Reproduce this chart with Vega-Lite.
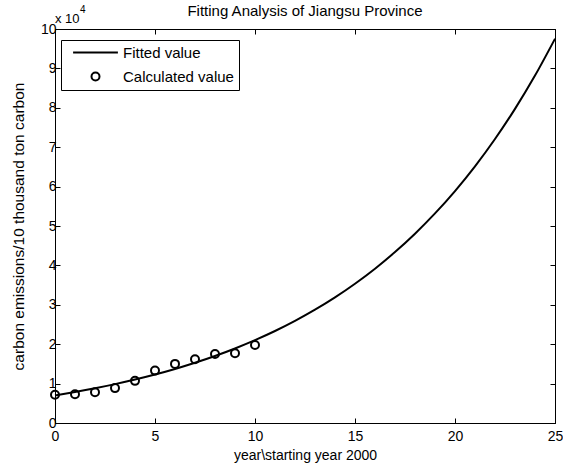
{
  "$schema": "https://vega.github.io/schema/vega-lite/v6.json",
  "width": 500,
  "height": 394,
  "autosize": {"type": "none"},
  "padding": {"left": 55, "top": 29, "right": 8, "bottom": 49},
  "background": "white",
  "title": {"text": "Fitting Analysis of Jiangsu Province", "fontSize": 15, "font": "Liberation Sans", "fontWeight": "normal", "color": "black", "offset": -14, "anchor": "middle"},
  "config": {
    "view": {"stroke": "black", "strokeWidth": 1},
    "font": "Liberation Sans",
    "axis": {
      "domainColor": "black", "tickColor": "black", "labelColor": "black", "titleColor": "black",
      "labelFont": "Liberation Sans", "titleFont": "Liberation Sans", "labelFontSize": 14, "titleFontSize": 14,
      "titleFontWeight": "normal", "grid": false, "tickSize": -5, "tickWidth": 1, "labelFlush": false, "labelOverlap": false
    }
  },
  "datasets": {
    "fitted": [
      {"t": 0, "v": 7000}, {"t": 1, "v": 7860}, {"t": 2, "v": 8810}, {"t": 3, "v": 9870}, {"t": 4, "v": 11030},
      {"t": 5, "v": 12310}, {"t": 6, "v": 13720}, {"t": 7, "v": 15290}, {"t": 8, "v": 17010}, {"t": 9, "v": 18920},
      {"t": 10, "v": 21030}, {"t": 11, "v": 23350}, {"t": 12, "v": 25920}, {"t": 13, "v": 28760}, {"t": 14, "v": 31890},
      {"t": 15, "v": 35350}, {"t": 16, "v": 39170}, {"t": 17, "v": 43390}, {"t": 18, "v": 48050}, {"t": 19, "v": 53190},
      {"t": 20, "v": 58870}, {"t": 21, "v": 65150}, {"t": 22, "v": 72080}, {"t": 23, "v": 79730}, {"t": 24, "v": 88180},
      {"t": 25, "v": 97520}
    ],
    "calc": [
      {"t": 0, "v": 7160, "series": "Calculated value"}, {"t": 1, "v": 7300, "series": "Calculated value"},
      {"t": 2, "v": 7800, "series": "Calculated value"}, {"t": 3, "v": 8860, "series": "Calculated value"},
      {"t": 4, "v": 10700, "series": "Calculated value"}, {"t": 5, "v": 13300, "series": "Calculated value"},
      {"t": 6, "v": 15000, "series": "Calculated value"}, {"t": 7, "v": 16200, "series": "Calculated value"},
      {"t": 8, "v": 17500, "series": "Calculated value"}, {"t": 9, "v": 17700, "series": "Calculated value"},
      {"t": 10, "v": 19800, "series": "Calculated value"}
    ],
    "note": [{"a": "x 10", "b": "4"}]
  },
  "layer": [
    {
      "data": {"name": "fitted"},
      "mark": {"type": "line", "color": "black", "strokeWidth": 2, "interpolate": "monotone"},
      "encoding": {
        "x": {"field": "t", "type": "quantitative", "scale": {"domain": [0, 25], "nice": false},
          "axis": {"orient": "bottom", "values": [0, 5, 10, 15, 20, 25], "title": "year\\starting year 2000", "labelPadding": 11, "titlePadding": 5}},
        "y": {"field": "v", "type": "quantitative", "scale": {"domain": [0, 100000], "nice": false},
          "axis": {"orient": "left", "values": [0, 10000, 20000, 30000, 40000, 50000, 60000, 70000, 80000, 90000, 100000],
            "labelExpr": "format(datum.value / 10000, 'd')", "title": "carbon emissions/10 thousand ton carbon", "titleFontSize": 15.5, "labelPadding": 4, "titlePadding": 14}}
      }
    },
    {
      "data": {"name": "calc"},
      "mark": {"type": "point", "filled": false, "stroke": "black", "strokeWidth": 2, "size": 64, "opacity": 1},
      "encoding": {
        "x": {"field": "t", "type": "quantitative",
          "axis": {"orient": "top", "values": [0, 5, 10, 15, 20, 25], "labels": false, "title": null}},
        "y": {"field": "v", "type": "quantitative",
          "axis": {"orient": "right", "values": [0, 10000, 20000, 30000, 40000, 50000, 60000, 70000, 80000, 90000, 100000], "labels": false, "title": null}},
        "shape": {"field": "series", "type": "nominal",
          "scale": {"domain": ["Fitted value", "Calculated value"], "range": ["M-5.6,0H5.6", "circle"]},
          "legend": {"orient": "none", "legendX": 6, "legendY": 11, "title": null, "strokeColor": "black", "fillColor": "white",
            "padding": 5, "symbolOffset": 22, "labelOffset": 20, "labelFontSize": 15, "labelFont": "Liberation Sans", "labelColor": "black",
            "symbolStrokeColor": "black", "symbolStrokeWidth": 2, "symbolSize": 64, "symbolFillColor": "transparent", "rowPadding": 7, "cornerRadius": 0}}
      }
    },
    {
      "data": {"name": "note"},
      "mark": {"type": "text", "align": "left", "baseline": "alphabetic", "fontSize": 13, "font": "Liberation Sans", "color": "black", "dy": -6},
      "encoding": {
        "x": {"datum": 0, "type": "quantitative", "axis": null},
        "y": {"datum": 100000, "type": "quantitative", "axis": null},
        "text": {"field": "a"}
      }
    },
    {
      "data": {"name": "note"},
      "mark": {"type": "text", "align": "left", "baseline": "alphabetic", "fontSize": 10, "font": "Liberation Sans", "color": "black", "dx": 25, "dy": -16},
      "encoding": {
        "x": {"datum": 0, "type": "quantitative", "axis": null},
        "y": {"datum": 100000, "type": "quantitative", "axis": null},
        "text": {"field": "b"}
      }
    }
  ],
  "resolve": {"axis": {"x": "independent", "y": "independent"}}
}
